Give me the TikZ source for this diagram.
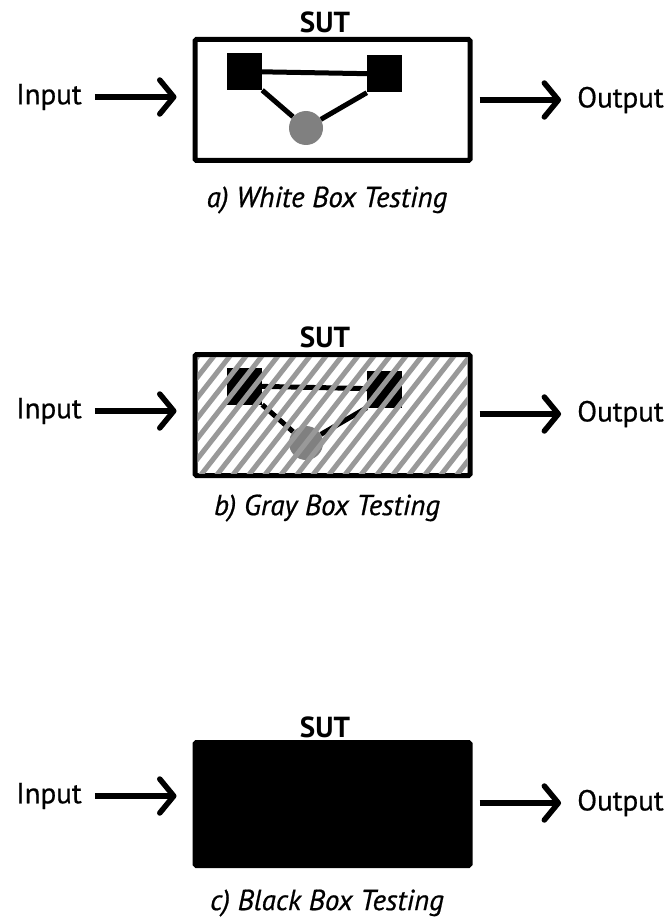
\documentclass[tikz,border=0pt]{standalone}
\usepackage{fontspec}
\setmainfont{PT Sans}
\newfontfamily\labelfont{PT Sans}[FakeBold=0.6]
\usetikzlibrary{arrows.meta,calc}
\begin{document}
\begin{tikzpicture}[x=1pt,y=-1pt,
  sutbox/.style={draw=black, line width=5pt, rounded corners=1.5pt, minimum width=275pt, minimum height=121pt, inner sep=0pt},
  sutlabel/.style={font=\bfseries\fontsize{29}{32}\selectfont, inner sep=0pt},
  iolabel/.style={font=\labelfont\fontsize{29}{32}\selectfont, inner sep=0pt},
  caption/.style={font=\labelfont\itshape\fontsize{29}{32}\selectfont, inner sep=0pt},
  block/.style={fill=black, minimum width=35pt, minimum height=37pt, inner sep=0pt},
  dot/.style={circle, fill=black!50, minimum size=34pt, inner sep=0pt},
  link/.style={line width=5pt, black},
  flow/.style={line width=5.5pt, -{Straight Barb[length=14pt,width=34pt,line cap=round,line join=round]}},
  stripe/.style={line width=5pt, draw=black!40}
]
\useasboundingbox (0,0) rectangle (668,920);
\fill[white] (0,0) rectangle (668,920);

% ---------- a) white box ----------
\node[sutbox] (boxa) at (332.5,100) {};
\node[sutlabel] (suta) at (325,22) {SUT};
\node[block] (sqa1) at (244.5,71.5) {};
\node[block] (sqa2) at (384.5,74) {};
\node[dot] (cira) at (306,128) {};
\draw[link] (sqa1) -- (sqa2);
\draw[link] (sqa1.south east) -- (cira);
\draw[link] (cira) -- (sqa2.south west);
\node[iolabel] (ina) at (49,97) {Input};
\node[iolabel] (outa) at (620.5,100) {Output};
\draw[flow, shorten <=13pt, shorten >=16pt] (ina.east) -- (ina.east -| boxa.west);
\draw[flow, shorten <=7pt, shorten >=16pt] (boxa.east |- outa) -- (outa.west);
\node[caption] (capa) at (327,200) {a) White Box Testing};

% ---------- b) gray box ----------
\node[sutbox] (boxb) at (332.5,415) {};
\node[sutlabel] (sutb) at (325,337) {SUT};
\node[block] (sqb1) at (244.5,386) {};
\node[block] (sqb2) at (384.5,389) {};
\node[dot] (cirb) at (306,443) {};
\draw[link] (sqb1) -- (sqb2);
\draw[link] (sqb1.south east) -- (cirb);
\draw[link] (cirb) -- (sqb2.south west);
\begin{scope}
  \clip ($(boxb.south west)+(5,-5)$) rectangle ($(boxb.north east)+(-5,5)$);
  \foreach \i in {-8,...,19}
    \draw[stripe] (193+\i*16,485) -- ++(108,-138);
\end{scope}
\node[iolabel] (inb) at (49,411) {Input};
\node[iolabel] (outb) at (620.5,414) {Output};
\draw[flow, shorten <=13pt, shorten >=16pt] (inb.east) -- (inb.east -| boxb.west);
\draw[flow, shorten <=7pt, shorten >=16pt] (boxb.east |- outb) -- (outb.west);
\node[caption] (capb) at (327,508) {b) Gray Box Testing};

% ---------- c) black box ----------
\node[sutbox, fill=black, minimum height=123pt] (boxc) at (332.5,804) {};
\node[sutlabel] (sutc) at (325,727) {SUT};
\node[iolabel] (inc) at (49,796) {Input};
\node[iolabel] (outc) at (620.5,803) {Output};
\draw[flow, shorten <=13pt, shorten >=16pt] (inc.east) -- (inc.east -| boxc.west);
\draw[flow, shorten <=7pt, shorten >=16pt] (boxc.east |- outc) -- (outc.west);
\node[caption] (capc) at (327,903) {c) Black Box Testing};
\end{tikzpicture}
\end{document}
